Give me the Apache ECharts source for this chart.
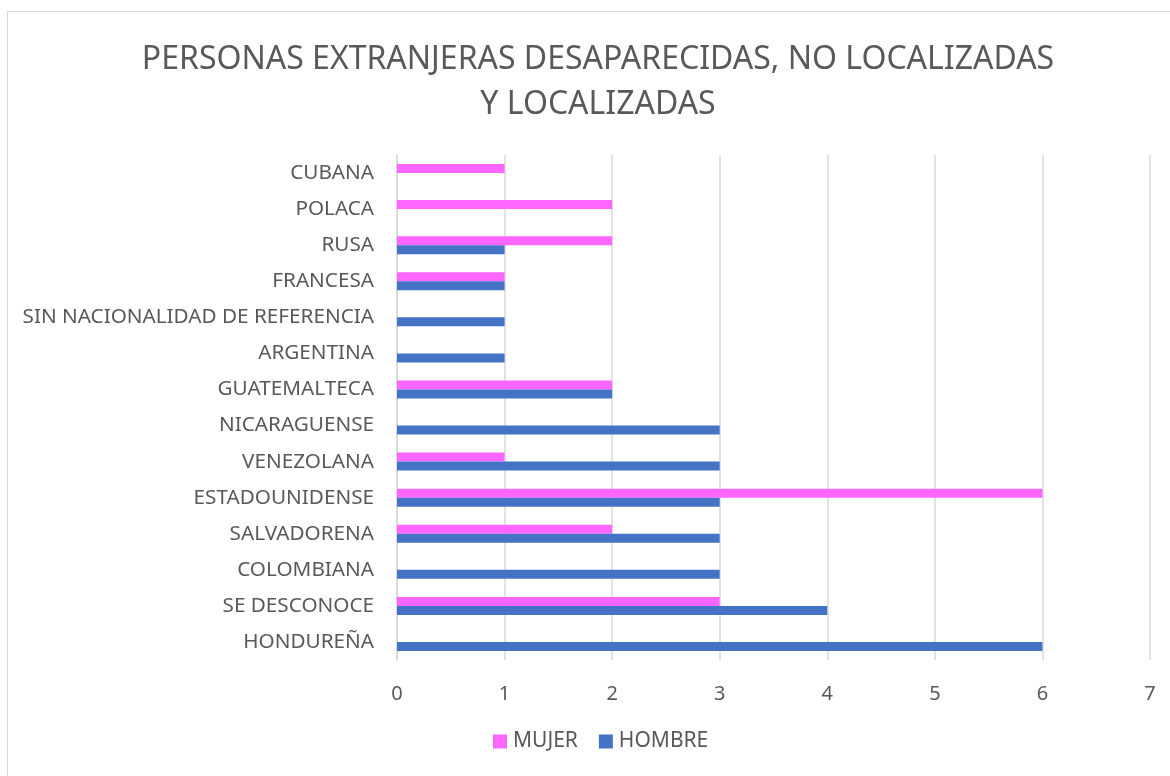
<!DOCTYPE html>
<html>
<head>
<meta charset="utf-8">
<script src="https://cdn.jsdelivr.net/npm/echarts@6/dist/echarts.min.js"></script>
<style>
  html, body { margin: 0; padding: 0; background: #fff; }
  #chart { width: 1170px; height: 776px; }
  .frame { position: absolute; left: 7px; top: 11px; width: 1175px; height: 780px; border: 1px solid #d9d9d9; pointer-events: none; }
</style>
</head>
<body>
<div id="chart"></div>
<div class="frame"></div>
<script>
const categories = ['HONDUREÑA', 'SE DESCONOCE', 'COLOMBIANA', 'SALVADORENA', 'ESTADOUNIDENSE', 'VENEZOLANA',
  'NICARAGUENSE', 'GUATEMALTECA', 'ARGENTINA', 'SIN NACIONALIDAD DE REFERENCIA', 'FRANCESA', 'RUSA', 'POLACA', 'CUBANA']
const mujer = [0, 3, 0, 2, 6, 1, 0, 2, 0, 0, 1, 2, 2, 1]
const hombre = [6, 4, 3, 3, 3, 3, 3, 2, 1, 1, 1, 1, 0, 0]

const FONT = 'Noto Sans'
const chart = echarts.init(document.getElementById('chart'))

chart.setOption({
  animation: false,
  title: {
    text: 'PERSONAS EXTRANJERAS DESAPARECIDAS, NO LOCALIZADAS\nY LOCALIZADAS',
    left: 593,
    textAlign: 'center',
    top: 32,
    textStyle: { color: '#595959', fontFamily: FONT, fontSize: 32, fontWeight: 'normal', lineHeight: 45 }
  },
  legend: {
    data: ['MUJER', 'HOMBRE'],
    bottom: 19,
    left: 488,
    itemWidth: 14,
    itemHeight: 14,
    itemGap: 21,
    icon: 'rect',
    textStyle: { color: '#595959', fontFamily: FONT, fontSize: 21, padding: [0, 0, 0, 1] }
  },
  grid: { left: 397, right: 20, top: 155, bottom: 116, containLabel: false },
  xAxis: {
    type: 'value',
    min: 0,
    max: 7,
    interval: 1,
    axisLine: { show: false },
    axisTick: { show: false },
    axisLabel: { color: '#595959', fontFamily: FONT, fontSize: 20, margin: 24 },
    splitLine: { lineStyle: { color: '#d9d9d9', width: 1.5 } }
  },
  yAxis: {
    type: 'category',
    data: categories,
    axisLine: { show: true, lineStyle: { color: '#d9d9d9', width: 1.5 } },
    axisTick: { show: false },
    axisLabel: { color: '#595959', fontFamily: FONT, fontSize: 20.7, margin: 23 }
  },
  series: [
    {
      name: 'MUJER',
      type: 'bar',
      data: mujer,
      barWidth: 9,
      barGap: '0%',
      itemStyle: { color: '#ff66ff' }
    },
    {
      name: 'HOMBRE',
      type: 'bar',
      data: hombre,
      barWidth: 9,
      barGap: '0%',
      itemStyle: { color: '#4472c4' }
    }
  ]
})
</script>
</body>
</html>
